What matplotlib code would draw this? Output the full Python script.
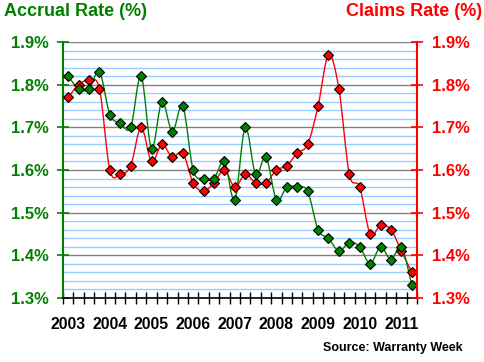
import numpy as np
import matplotlib
matplotlib.use("Agg")
import matplotlib.pyplot as plt
from matplotlib.path import Path
from matplotlib.patches import PathPatch

plt.rcParams['font.family'] = ['Liberation Sans', 'DejaVu Sans']

years = ['2003', '2004', '2005', '2006', '2007', '2008', '2009', '2010', '2011']
# quarterly values, 2003 Q1 .. 2011 Q2
accrual = [1.82, 1.79, 1.79, 1.83, 1.73, 1.71, 1.70, 1.82, 1.65, 1.76, 1.69, 1.75,
           1.60, 1.58, 1.58, 1.62, 1.53, 1.70, 1.59, 1.63, 1.53, 1.56, 1.56, 1.55,
           1.46, 1.44, 1.41, 1.43, 1.42, 1.38, 1.42, 1.39, 1.42, 1.33]
claims = [1.77, 1.80, 1.81, 1.79, 1.60, 1.59, 1.61, 1.70, 1.62, 1.66, 1.63, 1.64,
          1.57, 1.55, 1.57, 1.60, 1.56, 1.59, 1.57, 1.57, 1.60, 1.61, 1.64, 1.66,
          1.75, 1.87, 1.79, 1.59, 1.56, 1.45, 1.47, 1.46, 1.41, 1.36]

GREEN = '#008000'
RED = '#ff0000'


def smooth_path(x, y):
    # Excel-style smoothed line: Catmull-Rom segments as cubic Beziers
    pts = np.column_stack([x, y]).astype(float)
    n = len(pts)
    verts = [pts[0]]
    codes = [Path.MOVETO]
    for i in range(n - 1):
        p0 = pts[i - 1] if i > 0 else pts[i]
        p1 = pts[i]
        p2 = pts[i + 1]
        p3 = pts[i + 2] if i + 2 < n else pts[i + 1]
        c1 = p1 + (p2 - p0) / 6.0
        c2 = p2 - (p3 - p1) / 6.0
        verts += [c1, c2, p2]
        codes += [Path.CURVE4] * 3
    return Path(verts, codes)


fig = plt.figure(figsize=(4.85, 3.62), dpi=100)
ax = fig.add_axes([63 / 485, 1 - 298 / 362, (417 - 63) / 485, (298 - 42) / 362])

x = np.arange(len(accrual))

# gridlines
for v in np.arange(1.30, 1.901, 0.02):
    major = abs(round(v * 10) - v * 10) < 1e-6
    ax.axhline(v, color='#808080' if major else '#99ccff', lw=1.0, zorder=1)

for vals, col in [(claims, RED), (accrual, GREEN)]:
    ax.add_patch(PathPatch(smooth_path(x, vals), facecolor='none',
                           edgecolor=col, lw=1.0, zorder=3))
    ax.plot(x, vals, linestyle='none', marker='D', markersize=5.3,
            markerfacecolor=col, markeredgecolor='black', markeredgewidth=0.8,
            zorder=4, clip_on=False)

ax.set_xlim(-0.5, len(accrual) - 0.5)
ax.set_ylim(1.3, 1.9)
yt = np.round(np.arange(1.3, 1.901, 0.1), 1)
ax.set_yticks(yt)
ax.set_yticklabels(['%.1f%%' % v for v in yt], fontweight='bold')
ax.tick_params(axis='y', colors=GREEN, labelsize=12, direction='inout',
               length=9, width=1.2, pad=6)

ax.set_xticks(np.arange(-0.5, len(accrual), 1.0))
ax.set_xticklabels([])
ax.set_xticks(np.arange(0, len(accrual), 4), minor=True)
ax.set_xticklabels(years, minor=True, fontsize=11.3, fontweight='bold')
ax.tick_params(axis='x', which='major', direction='inout', length=9, width=1)
ax.tick_params(axis='x', which='minor', length=0, pad=14)

ax.spines['top'].set_visible(False)
ax.spines['right'].set_visible(False)
ax.spines['left'].set_color(GREEN)
ax.spines['left'].set_linewidth(1.5)
ax.spines['bottom'].set_linewidth(1.2)

ax2 = ax.twinx()
ax2.set_ylim(1.3, 1.9)
ax2.set_yticks(yt)
ax2.set_yticklabels(['%.1f%%' % v for v in yt], fontweight='bold')
ax2.tick_params(axis='y', colors=RED, labelsize=12, direction='inout',
                length=9, width=1.2, pad=6)
for s in ['top', 'left', 'bottom']:
    ax2.spines[s].set_visible(False)
ax2.spines['right'].set_color(RED)
ax2.spines['right'].set_linewidth(1.5)

fig.text(4 / 485, 1 - 11 / 362, 'Accrual Rate (%)', color=GREEN, fontsize=13,
         fontweight='bold', ha='left', va='center')
fig.text(482 / 485, 1 - 11 / 362, 'Claims Rate (%)', color=RED, fontsize=13,
         fontweight='bold', ha='right', va='center')
fig.text(463 / 485, 1 - 348 / 362, 'Source: Warranty Week', color='black',
         fontsize=9, fontweight='bold', ha='right', va='center')

fig.savefig('out.png', dpi=100)
